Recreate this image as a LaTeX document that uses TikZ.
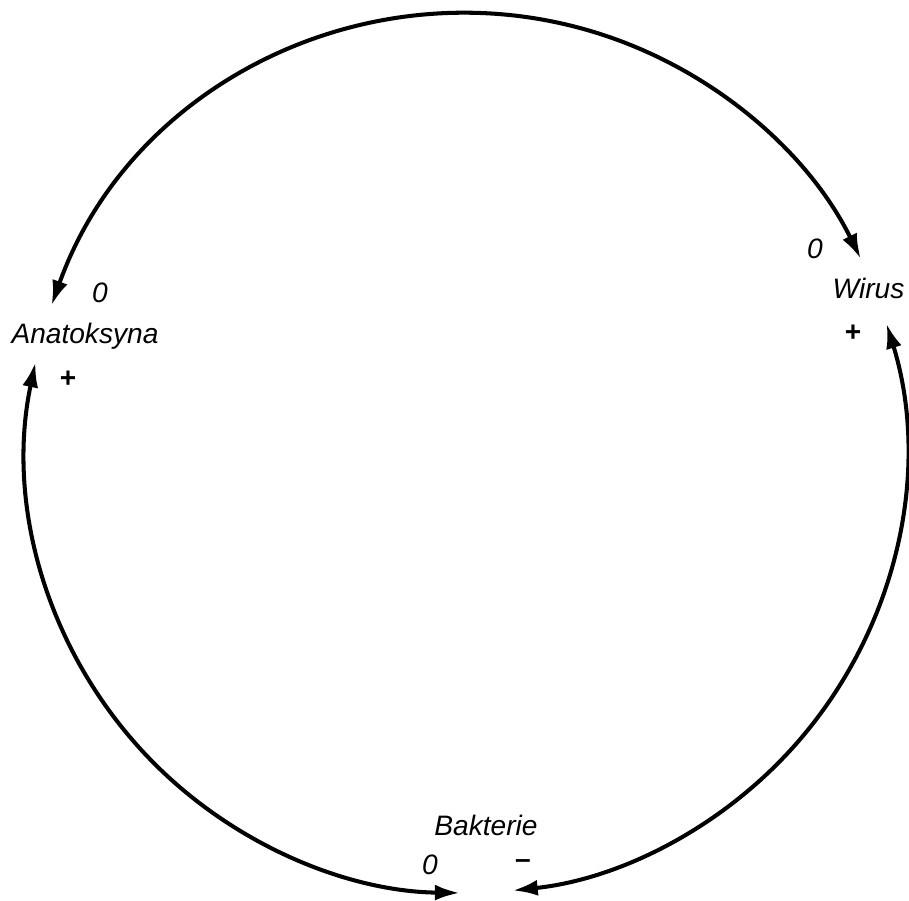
\documentclass[tikz,border=0pt]{standalone}
\usepackage{fontspec}
\setmainfont{Liberation Sans}
\usepackage{tikz}
\usetikzlibrary{arrows.meta}
\tikzset{
  cyclearc/.style={{Latex[length=5mm,width=3.2mm]}-{Latex[length=5mm,width=3.2mm]}, line width=2.3pt},
  cyclelabel/.style={font=\fontsize{16}{18}\selectfont\itshape, inner sep=0pt},
  cyclesign/.style={font=\fontsize{16}{18}\selectfont\bfseries, inner sep=0pt},
}

\begin{document}
\begin{tikzpicture}
  \useasboundingbox (-9.32,-8.94) rectangle (8.86,9.06);

  % ends of the three arcs on the circle
  \coordinate (anaTop) at (160.4:8.8);
  \coordinate (anaLow) at (168.1:8.8);
  \coordinate (wirTop) at (26.2:8.8);
  \coordinate (wirLow) at (17.1:8.8);
  \coordinate (bakLeft) at (269.2:8.8);
  \coordinate (bakRight) at (276.1:8.8);

  \node[cyclelabel] (ana) at (-7.62,2.34) {Anatoksyna};
  \node[cyclelabel] (anaZero) at (-7.32,3.20) {0};
  \node[cyclesign] (anaPlus) at (-7.96,1.48) {+};

  \node[cyclelabel] (wir) at (8.05,3.30) {Wirus};
  \node[cyclelabel] (wirZero) at (6.98,4.08) {0};
  \node[cyclesign] (wirPlus) at (7.74,2.40) {+};

  \node[cyclelabel] (bak) at (0.40,-7.44) {Bakterie};
  \node[cyclelabel] (bakZero) at (-0.72,-8.24) {0};
  \node[cyclesign] (bakMinus) at (1.14,-8.22) {--};

  \draw[cyclearc] (anaTop) arc[start angle=160.4, end angle=26.2, radius=8.8];
  \draw[cyclearc] (anaLow) arc[start angle=168.1, end angle=269.2, radius=8.8];
  \draw[cyclearc] (wirLow) arc[start angle=17.1, end angle=-83.9, radius=8.8];
\end{tikzpicture}
\end{document}
